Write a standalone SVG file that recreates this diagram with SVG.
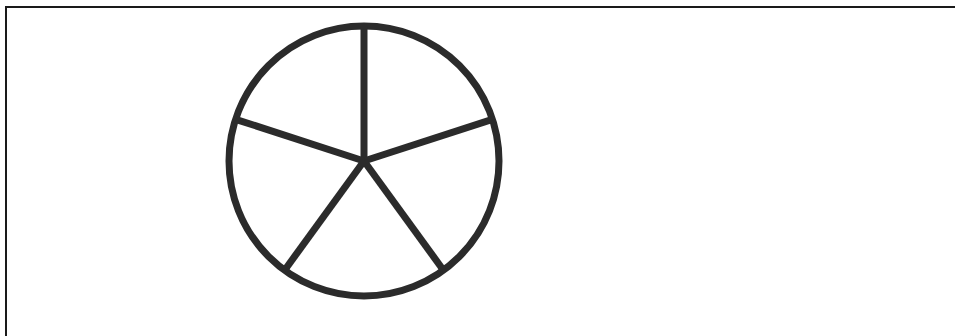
<svg xmlns="http://www.w3.org/2000/svg" width="955" height="336" viewBox="0 0 955 336">
<style>
.frame{fill:none;stroke:#1a1a1a;stroke-width:2}
.wheel{fill:none;stroke:#2b2b2b;stroke-width:7;stroke-linecap:butt}
</style>
<rect width="955" height="336" fill="#ffffff"/>
<path class="frame" d="M6 336 V7 H955"/>
<g id="wheel">
<circle class="wheel" cx="364" cy="161" r="135"/>
<g id="spokes" class="wheel">
<line x1="364" y1="161" x2="364" y2="26"/>
<line x1="364" y1="161" x2="492.4" y2="119.3"/>
<line x1="364" y1="161" x2="235.6" y2="119.3"/>
<line x1="364" y1="161" x2="443.4" y2="270.2"/>
<line x1="364" y1="161" x2="284.6" y2="270.2"/>
</g>
</g>
</svg>
